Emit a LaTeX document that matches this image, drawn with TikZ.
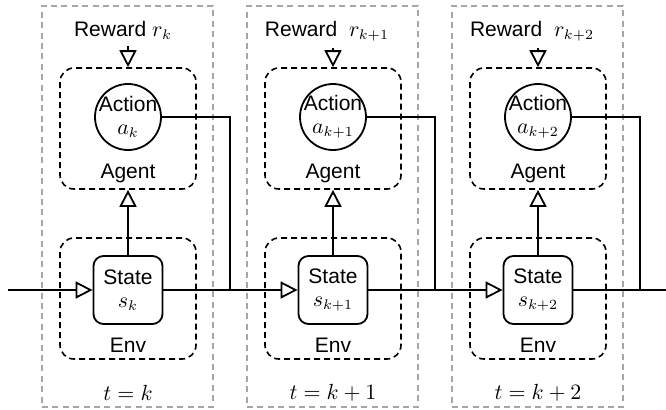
\documentclass[tikz,border=0pt]{standalone}
\usepackage{fontspec}
\setmainfont{Liberation Sans}
\usetikzlibrary{arrows.meta}

\begin{document}
\begin{tikzpicture}[x=0.5pt,y=-0.5pt,
		every node/.style={font=\fontsize{10.5}{11.5}\selectfont},
		tri/.style={-{Triangle[open,length=8.5pt,width=8.5pt]}},
		wire/.style={line width=0.9pt},
		panel/.style={draw=gray!70,line width=0.6pt,dash pattern=on 3pt off 2.2pt,minimum width=85.5pt,minimum height=200.5pt,inner sep=0pt},
		group/.style={draw,line width=0.8pt,dash pattern=on 3pt off 2pt,rounded corners=7pt,minimum width=68pt,minimum height=60.5pt,inner sep=0pt},
		actnode/.style={draw,circle,line width=0.9pt,minimum size=33pt,inner sep=-1.5pt,align=center},
		statenode/.style={draw,rounded corners=5pt,line width=0.9pt,minimum width=34.5pt,minimum height=34pt,inner sep=0pt,align=center}]
			\useasboundingbox (0,0) rectangle (666,409);

			% Draw the time step boxes
			\node[panel] (p1) at (127.5,206.5) {};
			\node[panel] (p2) at (332.5,206.5) {};
			\node[panel] (p3) at (537.5,206.5) {};

			% t = k
			\node[group] (ag1) at (128,128.5) {};
			\node[group] (env1) at (128,298.5) {};
			\node[anchor=base] (rw1) at (123,36) {Reward $r_k$};
			\node[actnode] (act1) at (128,117) {Action\\$a_k$};
			\node (agl1) at (128,173) {Agent};
			\node[statenode] (st1) at (128,290) {State\\$s_k$};
			\node (envl1) at (128,345) {Env};
			\node (t1) at (128,393) {$t=k$};

			% t = k+1
			\node[group] (ag2) at (333,128.5) {};
			\node[group] (env2) at (333,298.5) {};
			\node[anchor=base] (rw2) at (327,36) {Reward~ $r_{k+1}$};
			\node[actnode] (act2) at (333,117) {Action\\$a_{k+1}$};
			\node (agl2) at (333,173) {Agent};
			\node[statenode] (st2) at (333,290) {State\\$s_{k+1}$};
			\node (envl2) at (333,345) {Env};
			\node (t2) at (333,393) {$t=k+1$};

			% t = k+2
			\node[group] (ag3) at (538,128.5) {};
			\node[group] (env3) at (538,298.5) {};
			\node[anchor=base] (rw3) at (532,36) {Reward~ $r_{k+2}$};
			\node[actnode] (act3) at (538,117) {Action\\$a_{k+2}$};
			\node (agl3) at (538,173) {Agent};
			\node[statenode] (st3) at (538,290) {State\\$s_{k+2}$};
			\node (envl3) at (538,345) {Env};
			\node (t3) at (538,393) {$t=k+2$};

			% Reward and state arrows
			\draw[wire,tri] (ag1.north |- rw1.south) -- (ag1.north);
			\draw[wire,tri] (ag2.north |- rw2.south) -- (ag2.north);
			\draw[wire,tri] (ag3.north |- rw3.south) -- (ag3.north);
			\draw[wire,tri] (st1.north) -- (ag1.south);
			\draw[wire,tri] (st2.north) -- (ag2.south);
			\draw[wire,tri] (st3.north) -- (ag3.south);

			% Transitions
			\coordinate (in) at (8,290);
			\coordinate (j1) at (230,290);
			\coordinate (j2) at (435,290);
			\coordinate (j3) at (640,290);
			\coordinate (out) at (666,290);
			\draw[wire,tri] (in) -- (st1.west);
			\draw[wire,tri] (st1.east) -- (st2.west);
			\draw[wire,tri] (st2.east) -- (st3.west);
			\draw[wire] (st3.east) -- (out);
			\draw[wire] (act1.east) -| (j1);
			\draw[wire] (act2.east) -| (j2);
			\draw[wire] (act3.east) -| (j3);
		\end{tikzpicture}
\end{document}
